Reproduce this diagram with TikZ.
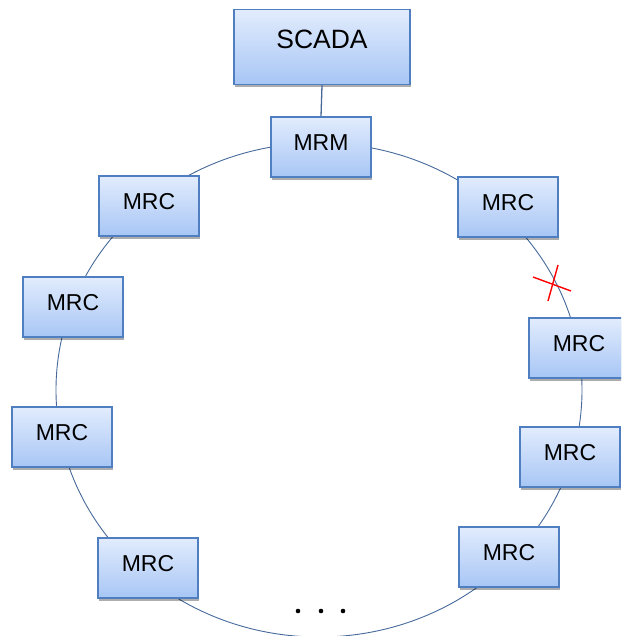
\documentclass[tikz,border=0pt]{standalone}
\usepackage{fontspec}
\setmainfont{Liberation Sans}
\usetikzlibrary{shadows}
\definecolor{boxedge}{HTML}{4F7FC0}
\definecolor{boxtop}{HTML}{E2ECFD}
\definecolor{boxmid}{HTML}{CCDEFB}
\definecolor{boxbot}{HTML}{A7C6F5}
\definecolor{ringline}{HTML}{46699A}
\begin{document}
\begin{tikzpicture}[x=1pt,y=-1pt,
  unitbox/.style={draw=boxedge, line width=1.5pt,
    top color=boxtop, middle color=boxmid, bottom color=boxbot,
    minimum width=100pt, minimum height=60pt, inner sep=0pt,
    font=\fontsize{23}{27}\selectfont, text depth=9pt,
    drop shadow={shadow xshift=1pt, shadow yshift=-3pt, opacity=0.32, fill=black}},
  masterbox/.style={unitbox, minimum width=176pt, minimum height=75pt,
    font=\fontsize{26.5}{30}\selectfont, text depth=15pt},
  ringstyle/.style={draw=ringline, line width=0.9pt},
  link/.style={draw=ringline, line width=1.3pt},
  cutmark/.style={draw=red, line width=1.4pt},
  dot/.style={circle, fill=black, inner sep=0pt, minimum size=4.6pt}]
  \clip (0,0) rectangle (621,636);

  % the ring that joins the manager and the clients
  \coordinate (ringc) at (319,390);
  \draw[ringstyle] (ringc) ellipse [x radius=263pt, y radius=247pt];

  % supervisory station and ring manager
  \node[masterbox] (scada) at (322,47) {SCADA};
  \node[unitbox] (mrm) at (321,147) {MRM};
  \draw[link] (scada.south) -- (mrm.north);

  % ring clients, clockwise from the top right
  \node[unitbox] (c1) at (508,207) {MRC};
  \node[unitbox] (c2) at (579,348) {MRC};
  \node[unitbox] (c3) at (570,457) {MRC};
  \node[unitbox] (c4) at (509,557) {MRC};
  \node[unitbox] (c5) at (148,568) {MRC};
  \node[unitbox] (c6) at (62,437) {MRC};
  \node[unitbox] (c7) at (73,307) {MRC};
  \node[unitbox] (c8) at (149,206) {MRC};

  % broken link between c1 and c2
  \coordinate (cut) at (553,284);
  \draw[cutmark] (cut) ++(-20,-7) -- ++(38,14);
  \draw[cutmark] (cut) ++(5,-19) -- ++(-10,36);

  % further clients not shown
  \node[dot] (d1) at (298,611) {};
  \node[dot] (d2) at (321,611) {};
  \node[dot] (d3) at (343,611) {};
\end{tikzpicture}
\end{document}
